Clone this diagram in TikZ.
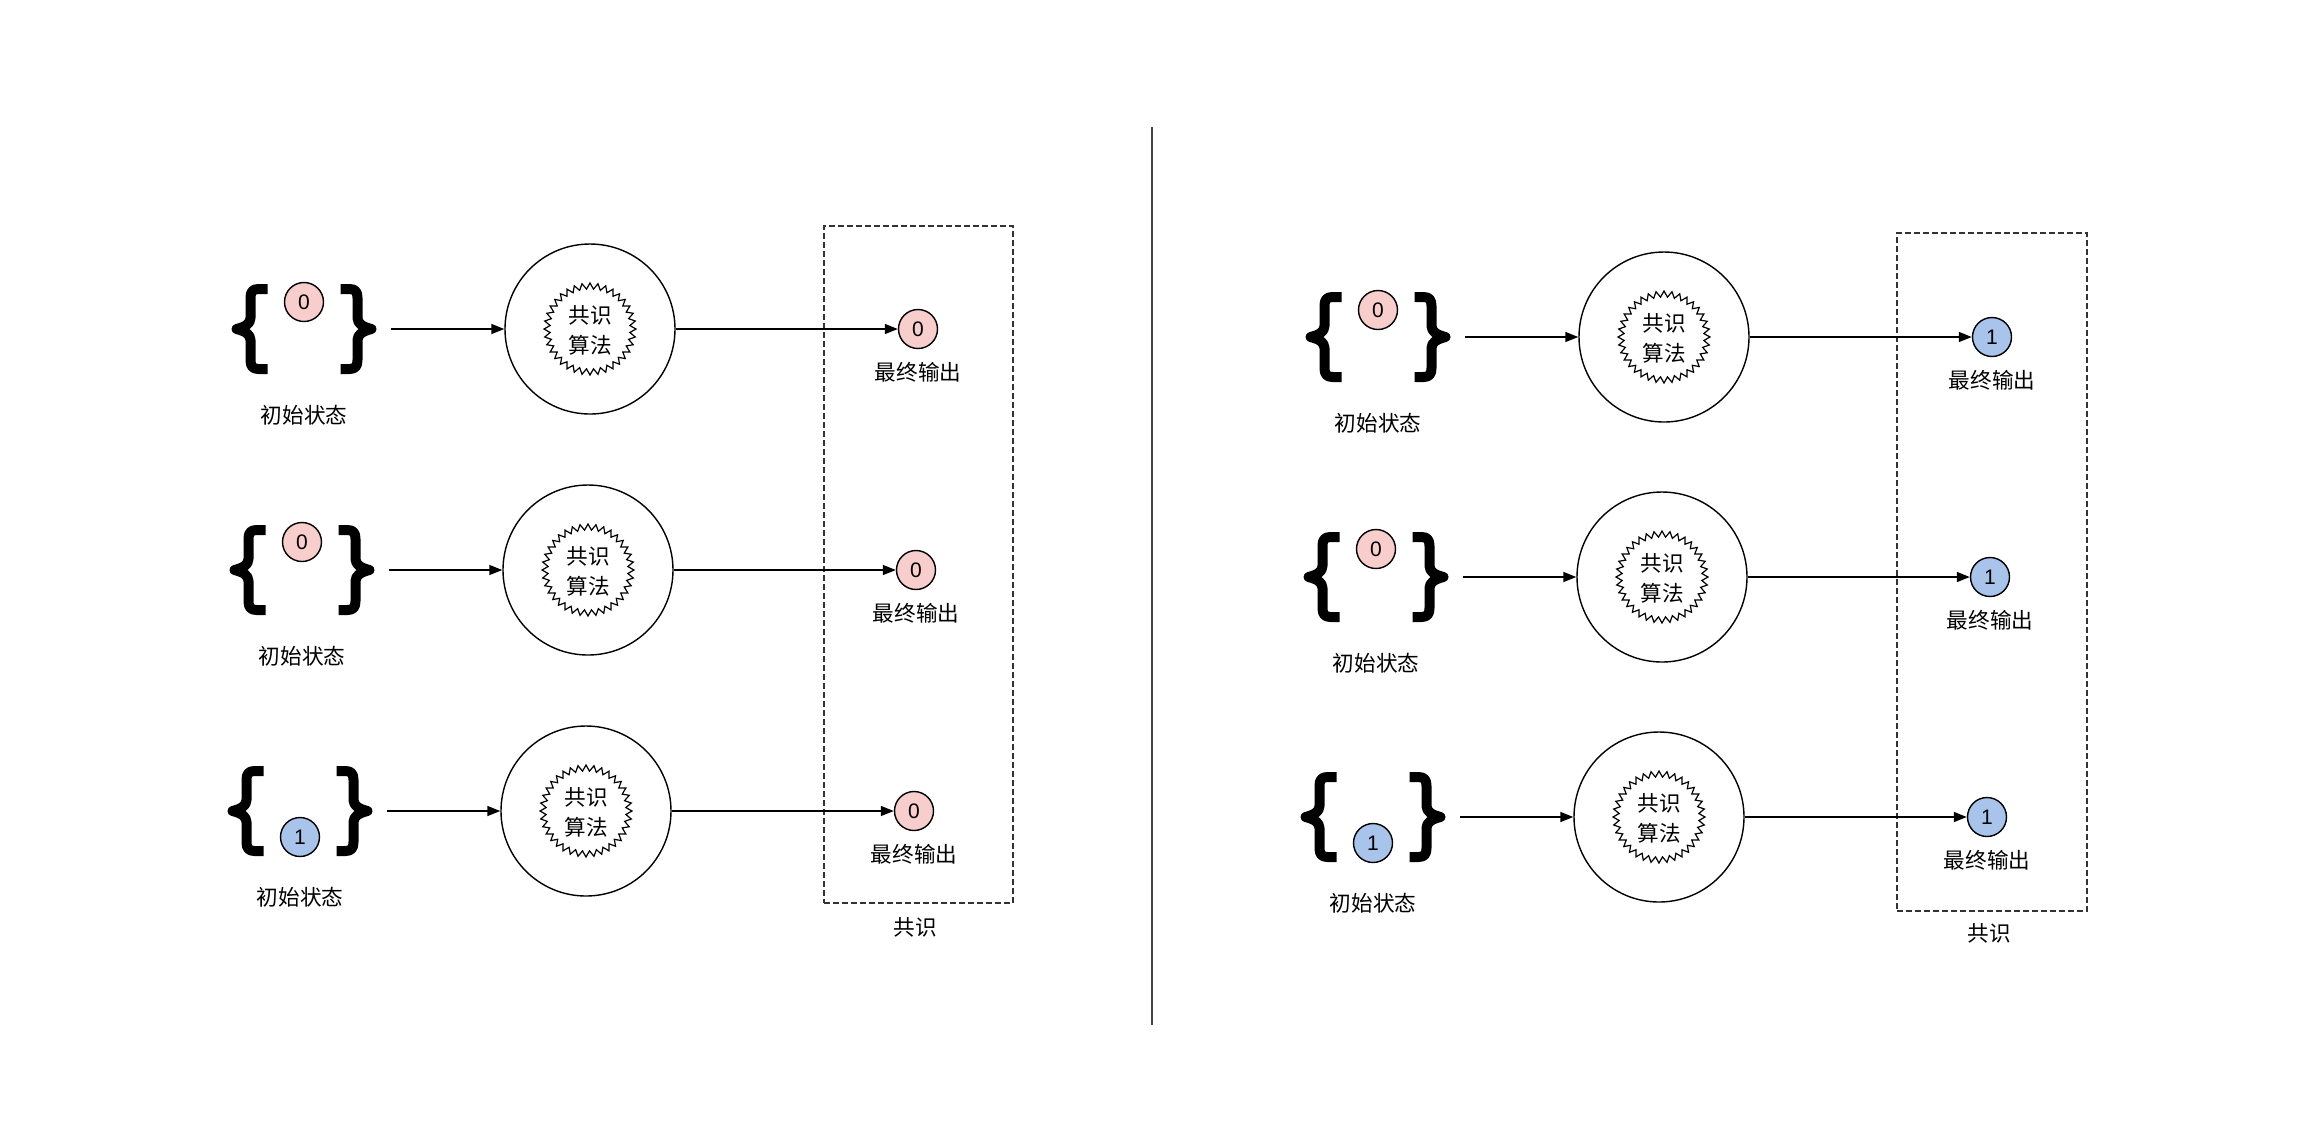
\documentclass[tikz,border=0pt]{standalone}
\usepackage{fontspec}
\setmainfont{Noto Sans CJK SC}
\newfontfamily\digitfont{Liberation Sans}
\usetikzlibrary{arrows.meta,calc}
\definecolor{pinkfill}{HTML}{F8CECC}
\definecolor{bluefill}{HTML}{A9C4EB}
\definecolor{linegray}{HTML}{333333}
\definecolor{divgray}{HTML}{444444}
\tikzset{
  bracestroke/.style={line width=5pt, line join=round, line cap=butt},
  valnode/.style={circle, draw, line width=0.7pt, minimum size=19.5pt, inner sep=0pt,
    font=\digitfont\fontsize{10.5pt}{12pt}\selectfont},
  algnode/.style={circle, draw, line width=0.7pt, minimum size=85pt, inner sep=0pt},
  lbl/.style={font=\fontsize{10.8pt}{13pt}\selectfont, inner sep=0pt},
  algtext/.style={font=\fontsize{10.8pt}{15pt}\selectfont, inner sep=0pt, align=center},
  flow/.style={line width=0.75pt, -{Triangle[length=6.5pt,width=5pt]}},
  burst/.style={line width=0.6pt},
  groupbox/.style={draw=linegray, line width=0.8pt, dash pattern=on 3pt off 1.5pt,
    inner sep=0pt, outer sep=0pt, anchor=north west},
}
% #1 id, #2 cx, #3 row y, #4 input dy, #5 input value, #6 input fill, #7 output value, #8 output fill
\newcommand\stagerow[8]{%
  \pgfmathsetmacro\bxl{#2-53.5}%
  \pgfmathsetmacro\bxr{#2+53.5}%
  \draw[bracestroke] (\bxl+17,#3-40) -- (\bxl+8,#3-40)
     .. controls (\bxl+2,#3-40) and (\bxl,#3-37) .. (\bxl,#3-31) -- (\bxl,#3-11)
     .. controls (\bxl,#3-5) and (\bxl-6,#3-2) .. (\bxl-14,#3)
     .. controls (\bxl-6,#3+2) and (\bxl,#3+5) .. (\bxl,#3+11) -- (\bxl,#3+31)
     .. controls (\bxl,#3+37) and (\bxl+2,#3+40) .. (\bxl+8,#3+40) -- (\bxl+17,#3+40);
  \draw[bracestroke] (\bxr-17,#3-40) -- (\bxr-8,#3-40)
     .. controls (\bxr-2,#3-40) and (\bxr,#3-37) .. (\bxr,#3-31) -- (\bxr,#3-11)
     .. controls (\bxr,#3-5) and (\bxr+6,#3-2) .. (\bxr+14,#3)
     .. controls (\bxr+6,#3+2) and (\bxr,#3+5) .. (\bxr,#3+11) -- (\bxr,#3+31)
     .. controls (\bxr,#3+37) and (\bxr-2,#3+40) .. (\bxr-8,#3+40) -- (\bxr-17,#3+40);
  \node[valnode, fill=#6] (in#1) at (#2,#3+#4) {#5};
  \node[lbl] (inlbl#1) at (#2,#3+86) {初始状态};
  \coordinate (start#1) at (#2+87,#3);
  \node[algnode] (alg#1) at (#2+286,#3) {};
  \draw[burst] ($(alg#1)+(90:46)$)
     \foreach \i [evaluate=\i as \rr using {43+3*cos(180*\i)}] in {1,...,71} { -- ($(alg#1)+({90+5*\i}:\rr)$) } -- cycle;
  \node[algtext] (algtxt#1) at ($(alg#1)+(0,1)$) {共识\\算法};
  \node[valnode, fill=#8] (out#1) at (#2+614,#3) {#7};
  \node[lbl] (outlbl#1) at (#2+614,#3+43) {最终输出};
  \draw[flow] (start#1) -- (alg#1);
  \draw[flow] (alg#1) -- (out#1);
}
\begin{document}
\begin{tikzpicture}[x=0.5pt,y=-0.5pt]
\useasboundingbox (0,0) rectangle (2320,1132);
\fill[white] (0,0) rectangle (2320,1132);
% consensus boxes
\node[groupbox, minimum width=94.5pt, minimum height=338.5pt] (boxL) at (824,226) {};
\node[lbl] (boxLlbl) at (915,927) {共识};
\node[groupbox, minimum width=95pt, minimum height=339pt] (boxR) at (1897,233) {};
\node[lbl] (boxRlbl) at (1989,933) {共识};
% divider
\coordinate (divTop) at (1151.5,127);
\coordinate (divBot) at (1151.5,1025);
\draw[divgray, line width=1pt] (divTop) -- (divBot);
% left panel
\stagerow{A}{304}{329}{-27}{0}{pinkfill}{0}{pinkfill}
\stagerow{B}{302}{570}{-28}{0}{pinkfill}{0}{pinkfill}
\stagerow{C}{300}{811}{26}{1}{bluefill}{0}{pinkfill}
% right panel
\stagerow{D}{1378}{337}{-27}{0}{pinkfill}{1}{bluefill}
\stagerow{E}{1376}{577}{-28}{0}{pinkfill}{1}{bluefill}
\stagerow{F}{1373}{817}{26}{1}{bluefill}{1}{bluefill}
\end{tikzpicture}
\end{document}
